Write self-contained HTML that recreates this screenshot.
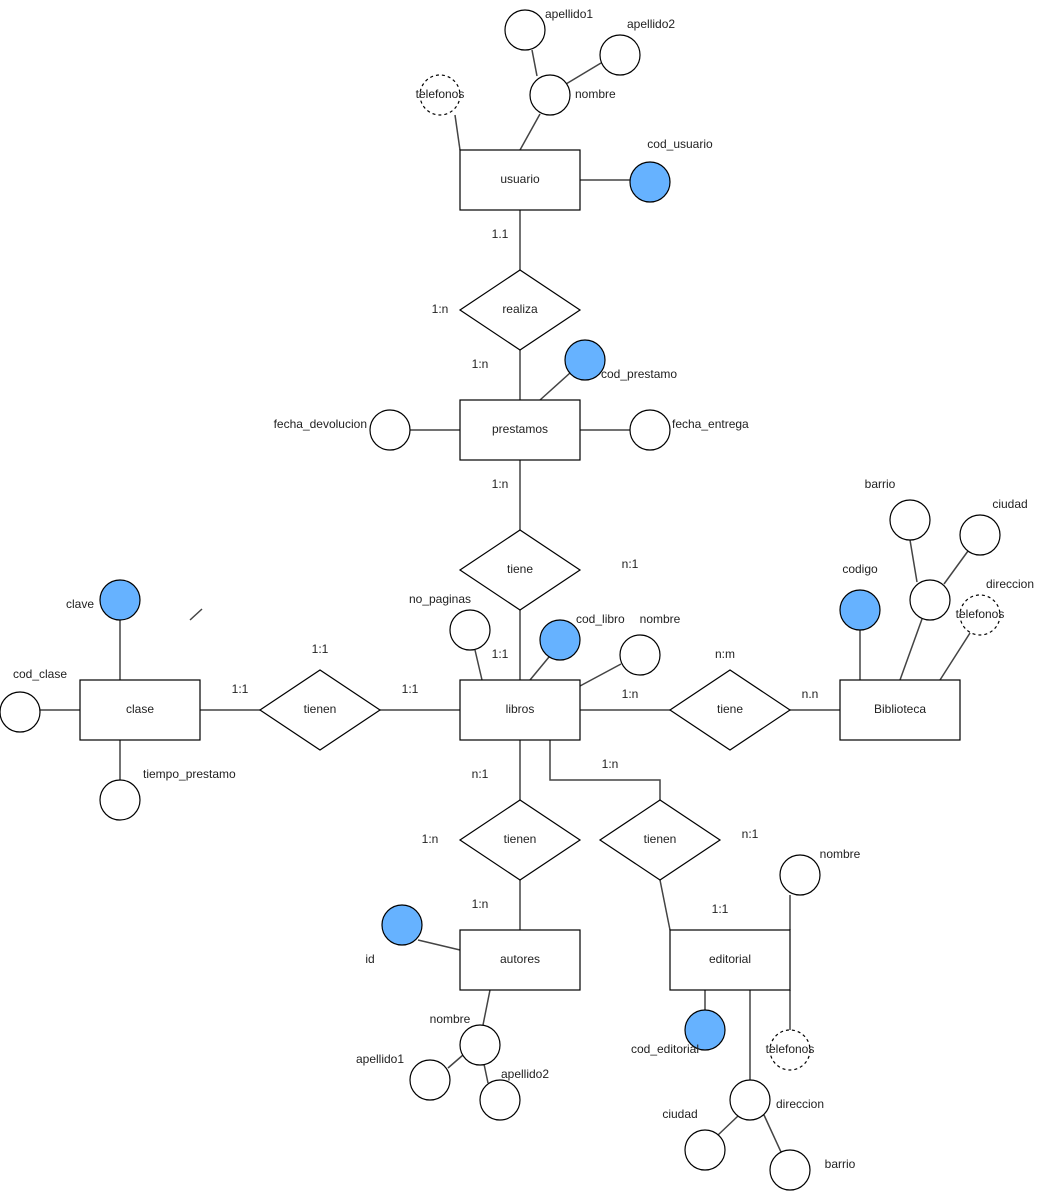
<!DOCTYPE html>
<html><head><style>
html,body{margin:0;padding:0;background:#fff}
svg text{font-family:"Liberation Sans",Arial,sans-serif;font-size:12px;fill:#222;dominant-baseline:middle}
</style></head><body>
<svg width="1041" height="1191" viewBox="0 0 1041 1191" xmlns="http://www.w3.org/2000/svg">
<g stroke="#444" stroke-width="1.5" fill="none">
<line x1="580" y1="180" x2="630" y2="180"/>
<line x1="455" y1="115" x2="460" y2="150"/>
<line x1="540" y1="114" x2="520" y2="150"/>
<line x1="532" y1="50" x2="537" y2="76"/>
<line x1="601" y1="63" x2="566" y2="84"/>
<line x1="520" y1="210" x2="520" y2="270"/>
<line x1="520" y1="350" x2="520" y2="400"/>
<line x1="540" y1="400" x2="570" y2="373"/>
<line x1="410" y1="430" x2="460" y2="430"/>
<line x1="580" y1="430" x2="630" y2="430"/>
<line x1="520" y1="460" x2="520" y2="530"/>
<line x1="520" y1="610" x2="520" y2="680"/>
<line x1="475" y1="650" x2="482" y2="680"/>
<line x1="549" y1="657" x2="530" y2="680"/>
<line x1="621" y1="664" x2="580" y2="686"/>
<line x1="580" y1="710" x2="670" y2="710"/>
<line x1="790" y1="710" x2="840" y2="710"/>
<line x1="860" y1="630" x2="860" y2="680"/>
<line x1="922" y1="619" x2="900" y2="680"/>
<line x1="910" y1="540" x2="917" y2="582"/>
<line x1="968" y1="551" x2="944" y2="584"/>
<line x1="970" y1="633" x2="940" y2="680"/>
<line x1="200" y1="710" x2="260" y2="710"/>
<line x1="380" y1="710" x2="460" y2="710"/>
<line x1="120" y1="620" x2="120" y2="680"/>
<line x1="40" y1="710" x2="80" y2="710"/>
<line x1="120" y1="740" x2="120" y2="780"/>
<line x1="190" y1="620" x2="202" y2="609"/>
<line x1="520" y1="740" x2="520" y2="800"/>
<line x1="520" y1="880" x2="520" y2="930"/>
<line x1="418" y1="940" x2="460" y2="950"/>
<line x1="490" y1="990" x2="483" y2="1025"/>
<line x1="448" y1="1068" x2="463" y2="1055"/>
<line x1="488" y1="1083" x2="484" y2="1064"/>
<polyline points="550,740 550,780 660,780 660,800"/>
<line x1="660" y1="880" x2="670" y2="930"/>
<line x1="790" y1="895" x2="790" y2="930"/>
<line x1="705" y1="990" x2="705" y2="1010"/>
<line x1="790" y1="990" x2="790" y2="1030"/>
<line x1="750" y1="990" x2="750" y2="1080"/>
<line x1="718" y1="1135" x2="738" y2="1116"/>
<line x1="781" y1="1152" x2="764" y2="1115"/>
</g>
<g stroke="#000" stroke-width="1.2" fill="#fff">
<rect x="460" y="150" width="120" height="60"/>
<rect x="460" y="400" width="120" height="60"/>
<rect x="460" y="680" width="120" height="60"/>
<rect x="840" y="680" width="120" height="60"/>
<rect x="80" y="680" width="120" height="60"/>
<rect x="460" y="930" width="120" height="60"/>
<rect x="670" y="930" width="120" height="60"/>
<polygon points="460,310 520,270 580,310 520,350"/>
<polygon points="460,570 520,530 580,570 520,610"/>
<polygon points="670,710 730,670 790,710 730,750"/>
<polygon points="260,710 320,670 380,710 320,750"/>
<polygon points="460,840 520,800 580,840 520,880"/>
<polygon points="600,840 660,800 720,840 660,880"/>
<circle cx="550" cy="95" r="20"/>
<circle cx="525" cy="30" r="20"/>
<circle cx="620" cy="55" r="20"/>
<circle cx="390" cy="430" r="20"/>
<circle cx="650" cy="430" r="20"/>
<circle cx="470" cy="630" r="20"/>
<circle cx="640" cy="655" r="20"/>
<circle cx="930" cy="600" r="20"/>
<circle cx="910" cy="520" r="20"/>
<circle cx="980" cy="535" r="20"/>
<circle cx="20" cy="712" r="20"/>
<circle cx="120" cy="800" r="20"/>
<circle cx="480" cy="1045" r="20"/>
<circle cx="430" cy="1080" r="20"/>
<circle cx="500" cy="1100" r="20"/>
<circle cx="800" cy="875" r="20"/>
<circle cx="750" cy="1100" r="20"/>
<circle cx="705" cy="1150" r="20"/>
<circle cx="790" cy="1170" r="20"/>
</g>
<g stroke="#000" stroke-width="1.2" fill="#fff" stroke-dasharray="3,3">
<circle cx="440" cy="95" r="20"/>
<circle cx="980" cy="615" r="20"/>
<circle cx="790" cy="1050" r="20"/>
</g>
<g stroke="#000" stroke-width="1.2" fill="#66B2FF">
<circle cx="650" cy="182" r="20"/>
<circle cx="585" cy="360" r="20"/>
<circle cx="560" cy="640" r="20"/>
<circle cx="860" cy="610" r="20"/>
<circle cx="120" cy="600" r="20"/>
<circle cx="402" cy="925" r="20"/>
<circle cx="705" cy="1030" r="20"/>
</g>
<g text-anchor="middle">
<text x="520" y="180">usuario</text>
<text x="520" y="430">prestamos</text>
<text x="520" y="710">libros</text>
<text x="900" y="710">Biblioteca</text>
<text x="140" y="710">clase</text>
<text x="520" y="960">autores</text>
<text x="730" y="960">editorial</text>
<text x="520" y="310">realiza</text>
<text x="520" y="570">tiene</text>
<text x="730" y="710">tiene</text>
<text x="320" y="710">tienen</text>
<text x="520" y="840">tienen</text>
<text x="660" y="840">tienen</text>
<text x="440" y="95">telefonos</text>
<text x="980" y="615">telefonos</text>
<text x="790" y="1050">telefonos</text>
<text x="500" y="235">1.1</text>
<text x="440" y="310">1:n</text>
<text x="480" y="365">1:n</text>
<text x="500" y="485">1:n</text>
<text x="630" y="565">n:1</text>
<text x="500" y="655">1:1</text>
<text x="630" y="695">1:n</text>
<text x="725" y="655">n:m</text>
<text x="810" y="695">n.n</text>
<text x="240" y="690">1:1</text>
<text x="320" y="650">1:1</text>
<text x="410" y="690">1:1</text>
<text x="480" y="775">n:1</text>
<text x="430" y="840">1:n</text>
<text x="480" y="905">1:n</text>
<text x="610" y="765">1:n</text>
<text x="750" y="835">n:1</text>
<text x="720" y="910">1:1</text>
<text x="680" y="145">cod_usuario</text>
<text x="440" y="600">no_paginas</text>
<text x="660" y="620">nombre</text>
<text x="860" y="570">codigo</text>
<text x="880" y="485">barrio</text>
<text x="1010" y="505">ciudad</text>
<text x="1010" y="585">direccion</text>
<text x="80" y="605">clave</text>
<text x="40" y="675">cod_clase</text>
<text x="370" y="960">id</text>
<text x="450" y="1020">nombre</text>
<text x="380" y="1060">apellido1</text>
<text x="525" y="1075">apellido2</text>
<text x="840" y="855">nombre</text>
<text x="665" y="1050">cod_editorial</text>
<text x="680" y="1115">ciudad</text>
<text x="840" y="1165">barrio</text>
</g>
<g text-anchor="start">
<text x="545" y="15">apellido1</text>
<text x="627" y="25">apellido2</text>
<text x="575" y="95">nombre</text>
<text x="601" y="375">cod_prestamo</text>
<text x="672" y="425">fecha_entrega</text>
<text x="576" y="620">cod_libro</text>
<text x="143" y="775">tiempo_prestamo</text>
<text x="776" y="1105">direccion</text>
</g>
<text x="367" y="425" text-anchor="end">fecha_devolucion</text>
</svg>
</body></html>
